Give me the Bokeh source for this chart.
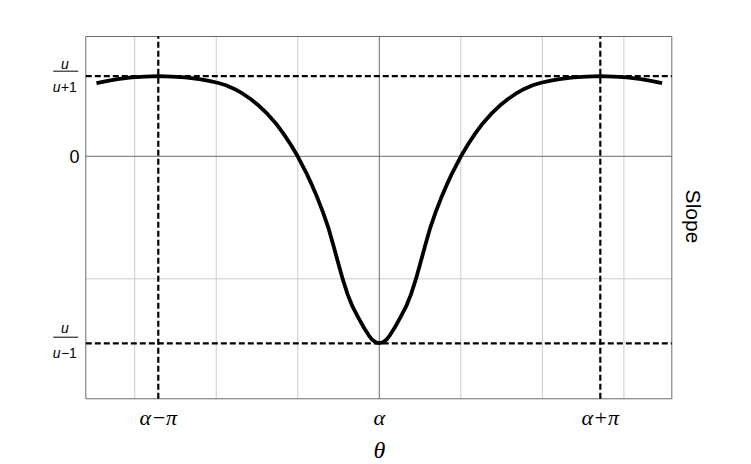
import math
from bokeh.plotting import figure
from bokeh.core.properties import value
from bokeh.embed import file_html
from bokeh.resources import INLINE

theta = [-4.02, -3.86, -3.72, -3.52, -3.33, -3.14, -2.95, -2.76, -2.56, -2.42,
         -2.30, -2.18, -2.06, -1.94, -1.83, -1.71, -1.59, -1.47, -1.36, -1.26,
         -1.16, -1.04, -0.96, -0.88, -0.80, -0.72, -0.65, -0.59, -0.52, -0.45,
         -0.38, -0.30, -0.22, -0.15, -0.10, -0.05,
         0.0,
         0.05, 0.10, 0.15, 0.22, 0.30, 0.38, 0.45, 0.52, 0.59, 0.65,
         0.72, 0.80, 0.88, 0.96, 1.04, 1.16, 1.26, 1.36, 1.47, 1.59,
         1.71, 1.83, 1.94, 2.06, 2.18, 2.30, 2.42, 2.56, 2.76, 2.95,
         3.14, 3.33, 3.52, 3.72, 3.86, 4.02]
slope = [0.261, 0.269, 0.275, 0.281, 0.284, 0.286, 0.284, 0.281, 0.275, 0.269,
         0.262, 0.253, 0.240, 0.223, 0.204, 0.180, 0.151, 0.117, 0.080, 0.042,
         0.000, -0.058, -0.101, -0.148, -0.200, -0.258, -0.320, -0.375, -0.438, -0.492,
         -0.536, -0.574, -0.610, -0.638, -0.654, -0.663,
         -0.666,
         -0.663, -0.654, -0.638, -0.610, -0.574, -0.536, -0.492, -0.438, -0.375, -0.320,
         -0.258, -0.200, -0.148, -0.101, -0.058, 0.000, 0.042, 0.080, 0.117, 0.151,
         0.180, 0.204, 0.223, 0.240, 0.253, 0.262, 0.269, 0.275, 0.281, 0.284,
         0.286, 0.284, 0.281, 0.275, 0.269, 0.261]

x_ticks = [-3.1416, 0.0, 3.1416]
x_tick_labels = ["α−π", "α", "α+π"]
y_upper = 0.2857   # u/(u+1)
y_lower = -0.6667  # u/(u-1)
grid_x = [-3.477, -2.318, -1.159, 1.159, 2.318, 3.477]
grid_y = [-0.4366]

# plot box (data units)
X_LO, X_HI = -4.172, 4.158
Y_LO, Y_HI = -0.8642, 0.4269

W, H = 751, 464
p = figure(width=W, height=H, x_range=(-5.3845, 5.2907), y_range=(-1.0984, 0.5552),
           x_axis_type=None, y_axis_type=None,
           output_backend="svg", toolbar_location=None,
           min_border=0, min_border_left=0, min_border_right=0,
           min_border_top=0, min_border_bottom=0)
p.outline_line_color = None
p.background_fill_color = "white"
p.border_fill_color = "white"

FRAME = "#6b6b6b"
GRID = "#cbcbcb"

# grid lines
p.segment(x0=grid_x, y0=[Y_LO] * len(grid_x), x1=grid_x, y1=[Y_HI] * len(grid_x),
          line_color=GRID, line_width=1)
p.segment(x0=[X_LO] * len(grid_y), y0=grid_y, x1=[X_HI] * len(grid_y), y1=grid_y,
          line_color=GRID, line_width=1)
# axes through origin
p.segment(x0=[0.0, X_LO], y0=[Y_LO, 0.0], x1=[0.0, X_HI], y1=[Y_HI, 0.0],
          line_color=FRAME, line_width=1)
# frame
p.quad(left=[X_LO], right=[X_HI], bottom=[Y_LO], top=[Y_HI],
       fill_color=None, line_color=FRAME, line_width=1)

# dashed reference lines
p.segment(x0=[x_ticks[0], x_ticks[2]], y0=[Y_LO, Y_LO], x1=[x_ticks[0], x_ticks[2]],
          y1=[Y_HI, Y_HI], line_color="black", line_width=2.2, line_dash="6 3")
p.segment(x0=[X_LO, X_LO], y0=[y_upper, y_lower], x1=[X_HI, X_HI], y1=[y_upper, y_lower],
          line_color="black", line_width=2.2, line_dash="6 3")

# the curve
p.line(theta, slope, line_color="black", line_width=3.8, line_join="round")

# x tick labels
p.text(x=x_ticks, y=[-0.9298] * 3, text=x_tick_labels, text_align="center",
       text_baseline="middle", text_font=value("Liberation Serif"),
       text_font_style="italic", text_font_size="22px", text_color="black")
# y tick "0"
p.text(x=[-4.2616], y=[0.0], text=["0"], text_align="right", text_baseline="middle",
       text_font=value("Liberation Sans"), text_font_size="18px", text_color="black")

# fraction tick labels
FX_C = -4.468     # numerator centre
FX_SPLIT = -4.532 # between 'u' and '+1'
num_y = [0.3297, -0.6137]
bar_y = [0.3033, -0.6447]
den_y = [0.2463, -0.7010]
den_rest = ["+1", "−1"]
p.text(x=[FX_C, FX_C], y=num_y, text=["u", "u"], text_align="center",
       text_baseline="middle", text_font=value("Liberation Sans"),
       text_font_style="italic", text_font_size="14px", text_color="black")
p.segment(x0=[-4.635, -4.635], y0=bar_y, x1=[-4.280, -4.280], y1=bar_y,
          line_color="black", line_width=1)
p.text(x=[FX_SPLIT, FX_SPLIT], y=den_y, text=["u", "u"], text_align="right",
       text_baseline="middle", text_font=value("Liberation Sans"),
       text_font_style="italic", text_font_size="14px", text_color="black")
p.text(x=[FX_SPLIT + 0.006, FX_SPLIT + 0.006], y=den_y, text=den_rest, text_align="left",
       text_baseline="middle", text_font=value("Liberation Sans"),
       text_font_size="14px", text_color="black")

# axis titles
p.text(x=[0.0], y=[-1.0467], text=["θ"], text_align="center", text_baseline="middle",
       text_font=value("Liberation Serif"), text_font_style="italic",
       text_font_size="24px", text_color="black")
p.text(x=[4.466], y=[-0.2145], text=["Slope"], text_align="center", text_baseline="middle",
       angle=-math.pi / 2, text_font=value("Liberation Sans"), text_font_size="21px",
       text_color="black")

open("out.html", "w").write(file_html(p, INLINE))
